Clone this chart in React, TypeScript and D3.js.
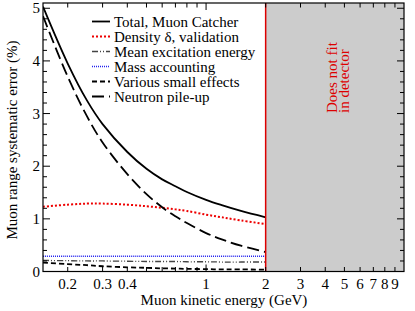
import React from 'react';
import * as d3 from 'd3';

const energy = [0.15, 0.2, 0.25, 0.3, 0.4, 0.5, 0.6, 0.7, 0.8, 1.0, 1.2, 1.5, 2.0];

const totalErr = [5.03, 3.95, 3.25, 2.8, 2.27, 1.95, 1.75, 1.62, 1.51, 1.36, 1.26, 1.15, 1.03];
const densityErr = [1.23, 1.27, 1.29, 1.29, 1.27, 1.24, 1.21, 1.18, 1.15, 1.08, 1.03, 0.97, 0.9];
const excitationErr = [0.21, 0.205, 0.2, 0.2, 0.195, 0.19, 0.19, 0.19, 0.185, 0.185, 0.18, 0.18, 0.18];
const massErr = [0.29, 0.29, 0.29, 0.29, 0.29, 0.29, 0.29, 0.29, 0.29, 0.29, 0.29, 0.29, 0.29];
const smallErr = [0.17, 0.14, 0.12, 0.1, 0.08, 0.07, 0.06, 0.055, 0.05, 0.045, 0.04, 0.04, 0.035];
const neutronErr = [4.85, 3.7, 2.95, 2.45, 1.85, 1.47, 1.22, 1.05, 0.92, 0.73, 0.61, 0.49, 0.37];

const xTickLabels = [0.2, 0.3, 0.4, 1, 2, 3, 4, 5, 6, 7, 8, 9];
const xTicks = [0.2, 0.3, 0.4, 0.5, 0.6, 0.7, 0.8, 0.9, 1, 2, 3, 4, 5, 6, 7, 8, 9];
const yTickLabels = [0, 1, 2, 3, 4, 5];
const yMinor = d3.range(0, 5.01, 0.2);
const detectorLimit = 2;

const series = [
  { name: 'Total, Muon Catcher', values: totalErr, color: '#000', width: 1.8, dash: '' },
  { name: 'Density \u03b4, validation', values: densityErr, color: '#ee0000', width: 2, dash: '2,2' },
  { name: 'Mean excitation energy', values: excitationErr, color: '#444', width: 1.3, dash: '6,2,1,2,1,2' },
  { name: 'Mass accounting', values: massErr, color: '#2222ee', width: 1.3, dash: '1,1' },
  { name: 'Various small effects', values: smallErr, color: '#000', width: 1.8, dash: '5,3' },
  { name: 'Neutron pile-up', values: neutronErr, color: '#000', width: 1.8, dash: '12,5' },
];

const W = 415, H = 311;
const L = 43, R = 404, T = 3, B = 271.5;
const font = "'Liberation Serif', 'Times New Roman', Times, serif";
const fs = 15;

export default function App() {
  const x = d3.scaleLog().domain([0.15, 10]).range([L, R]);
  const y = d3.scaleLinear().domain([0, 5.1]).range([B, T]);
  const line = d3.line<number>()
    .x((d, i) => x(energy[i]))
    .y((d) => y(d))
    .curve(d3.curveCatmullRom);

  return (
    <svg width={W} height={H} fontFamily={font} style={{ position: 'absolute', left: 0, top: 0 }}>
      <defs>
        <clipPath id="plot">
          <rect x={L} y={T} width={R - L} height={B - T} />
        </clipPath>
      </defs>
      <rect x={x(detectorLimit)} y={T} width={R - x(detectorLimit)} height={B - T} fill="#cccccc" />
      <g clipPath="url(#plot)">
        {series.map((s) => (
          <path key={s.name} d={line(s.values) || ''} fill="none" stroke={s.color}
            strokeWidth={s.width} strokeDasharray={s.dash || undefined} />
        ))}
      </g>
      <line x1={x(detectorLimit)} x2={x(detectorLimit)} y1={T} y2={B} stroke="#dd0000" strokeWidth={1.5} />
      <text transform={`translate(337,113) rotate(-90)`} fill="#dd0000" fontSize={15}>Does not fit</text>
      <text transform={`translate(349,113) rotate(-90)`} fill="#dd0000" fontSize={15}>in detector</text>

      {/* frame and ticks */}
      <rect x={L} y={T} width={R - L} height={B - T} fill="none" stroke="#000" strokeWidth={1.2} />
      {xTicks.map((t) => {
        const len = t === 1 ? 7 : 4.5;
        return (
          <g key={t}>
            <line x1={x(t)} x2={x(t)} y1={B} y2={B - len} stroke="#000" />
            <line x1={x(t)} x2={x(t)} y1={T} y2={T + len} stroke="#000" />
          </g>
        );
      })}
      {yMinor.map((t, i) => {
        const len = i % 5 === 0 ? 7 : 4;
        return (
          <g key={i}>
            <line x1={L} x2={L + len} y1={y(t)} y2={y(t)} stroke="#000" />
            <line x1={R} x2={R - len} y1={y(t)} y2={y(t)} stroke="#000" />
          </g>
        );
      })}
      {xTickLabels.map((t) => (
        <text key={t} x={x(t)} y={B + 17} textAnchor="middle" fontSize={fs}>{t}</text>
      ))}
      {yTickLabels.map((t) => (
        <text key={t} x={L - 3} y={y(t) + 5} textAnchor="end" fontSize={fs}>{t}</text>
      ))}
      <text x={224} y={B + 33} textAnchor="middle" fontSize={fs}>Muon kinetic energy (GeV)</text>
      <text transform={`translate(17,140) rotate(-90)`} textAnchor="middle" fontSize={fs}>
        Muon range systematic error (%)
      </text>

      {/* legend */}
      {series.map((s, i) => {
        const cy = 21.5 + i * 15;
        return (
          <g key={s.name}>
            <line x1={92} x2={110} y1={cy} y2={cy} stroke={s.color} strokeWidth={s.width}
              strokeDasharray={s.dash || undefined} />
            <text x={114} y={cy + 5} fontSize={fs}>{s.name}</text>
          </g>
        );
      })}
    </svg>
  );
}
